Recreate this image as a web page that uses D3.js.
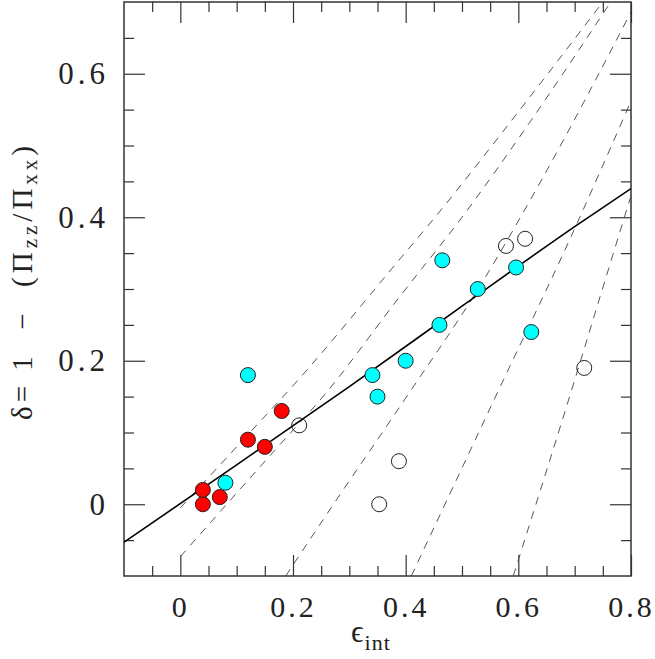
<!DOCTYPE html>
<html>
<head>
<meta charset="utf-8">
<script src="https://cdn.jsdelivr.net/npm/d3@7"></script>
<style>
  html, body { margin: 0; padding: 0; background: #fff; }
  svg { display: block; }
  text { font-family: "Liberation Serif", "DejaVu Serif", serif; fill: #222; }
</style>
</head>
<body>
<div id="chart"></div>
<script>
// ---------- data ----------
const redX  = [0.04, 0.04, 0.07, 0.12, 0.15, 0.18];
const redY  = [0.00, 0.02, 0.01, 0.09, 0.08, 0.13];

const cyanX = [0.08, 0.12, 0.341, 0.35, 0.40, 0.46, 0.465, 0.528, 0.596, 0.623];
const cyanY = [0.03, 0.18, 0.18, 0.15, 0.20, 0.25, 0.34, 0.30, 0.33, 0.24];

const openX = [0.211, 0.353, 0.388, 0.578, 0.612, 0.717];
const openY = [0.11, 0.00, 0.06, 0.36, 0.37, 0.19];

// solid fitted relation
const fitX = [-0.1, 0.1, 0.3, 0.5, 0.7, 0.8];
const fitY = [-0.053, 0.055, 0.164, 0.276, 0.387, 0.44];

// dashed curves
const dash1X = [0.0, 0.12, 0.21, 0.39, 0.45, 0.6, 0.75];
const dash1Y = [-0.005, 0.097, 0.174, 0.342, 0.398, 0.547, 0.70];
const dash2X = [0.0, 0.18, 0.25, 0.39, 0.5, 0.62, 0.764];
const dash2Y = [-0.073, 0.086, 0.147, 0.29, 0.40, 0.532, 0.70];
const dash3X = [0.187, 0.265, 0.4, 0.531, 0.644, 0.8];
const dash3Y = [-0.1, -0.008, 0.148, 0.303, 0.456, 0.686];
const dash4X = [0.41, 0.574, 0.686, 0.8];
const dash4Y = [-0.1, 0.174, 0.36, 0.562];
const dash5X = [0.591, 0.70, 0.745, 0.8];
const dash5Y = [-0.1, 0.173, 0.289, 0.43];

// ticks
const xTickVals   = [0, 0.2, 0.4, 0.6, 0.8];
const xTickLabels = ["0", "0.2", "0.4", "0.6", "0.8"];
const xMinorVals  = [-0.05, 0.05, 0.1, 0.15, 0.25, 0.3, 0.35, 0.45, 0.5, 0.55, 0.65, 0.7, 0.75];
const yTickVals   = [0, 0.2, 0.4, 0.6];
const yTickLabels = ["0", "0.2", "0.4", "0.6"];
const yMinorVals  = [-0.05, 0.05, 0.1, 0.15, 0.25, 0.3, 0.35, 0.45, 0.5, 0.55, 0.65];

// ---------- layout ----------
const W = 655, H = 659;
const L = 124, R = 631, T = 2, B = 576;

const x = d3.scaleLinear().domain([-0.1, 0.8]).range([L, R]);
const y = d3.scaleLinear().domain([-0.1, 0.7]).range([B, T]);

const svg = d3.select("#chart").append("svg")
  .attr("width", W).attr("height", H);

svg.append("defs").append("clipPath").attr("id", "clip")
  .append("rect").attr("x", L).attr("y", T).attr("width", R - L).attr("height", B - T);

const tickColor = "#333";
const MAJ = 21, MIN = 10;

function styleAxis(g, fontSize, spacing) {
  g.select(".domain").remove();
  g.selectAll(".tick line").attr("stroke", tickColor).attr("stroke-width", 1.2);
  g.selectAll(".tick text")
    .attr("font-size", fontSize)
    .attr("fill", "#222")
    .style("letter-spacing", spacing + "px");
}

// bottom
svg.append("g").attr("transform", `translate(0,${B})`)
  .call(d3.axisBottom(x).tickValues(xTickVals).tickFormat((d, i) => xTickLabels[i])
    .tickSizeInner(-MAJ).tickSizeOuter(0).tickPadding(20))
  .call(g => styleAxis(g, 30, 3));
svg.append("g").attr("transform", `translate(0,${B})`)
  .call(d3.axisBottom(x).tickValues(xMinorVals).tickFormat("").tickSizeInner(-MIN).tickSizeOuter(0))
  .call(g => styleAxis(g, 30, 3));
// top
svg.append("g").attr("transform", `translate(0,${T})`)
  .call(d3.axisTop(x).tickValues(xTickVals).tickFormat("").tickSizeInner(-MAJ).tickSizeOuter(0))
  .call(g => styleAxis(g, 30, 3));
svg.append("g").attr("transform", `translate(0,${T})`)
  .call(d3.axisTop(x).tickValues(xMinorVals).tickFormat("").tickSizeInner(-MIN).tickSizeOuter(0))
  .call(g => styleAxis(g, 30, 3));
// left
svg.append("g").attr("transform", `translate(${L},0)`)
  .call(d3.axisLeft(y).tickValues(yTickVals).tickFormat((d, i) => yTickLabels[i])
    .tickSizeInner(-MAJ).tickSizeOuter(0).tickPadding(15))
  .call(g => styleAxis(g, 31, 4));
svg.append("g").attr("transform", `translate(${L},0)`)
  .call(d3.axisLeft(y).tickValues(yMinorVals).tickFormat("").tickSizeInner(-MIN).tickSizeOuter(0))
  .call(g => styleAxis(g, 31, 4));
// right
svg.append("g").attr("transform", `translate(${R},0)`)
  .call(d3.axisRight(y).tickValues(yTickVals).tickFormat("").tickSizeInner(-MAJ).tickSizeOuter(0))
  .call(g => styleAxis(g, 31, 4));
svg.append("g").attr("transform", `translate(${R},0)`)
  .call(d3.axisRight(y).tickValues(yMinorVals).tickFormat("").tickSizeInner(-MIN).tickSizeOuter(0))
  .call(g => styleAxis(g, 31, 4));

// frame
svg.append("rect").attr("x", L).attr("y", T).attr("width", R - L).attr("height", B - T)
  .attr("fill", "none").attr("stroke", tickColor).attr("stroke-width", 1.5);

// ---------- curves ----------
const line = d3.line().x(d => x(d[0])).y(d => y(d[1])).curve(d3.curveMonotoneX);
const plot = svg.append("g").attr("clip-path", "url(#clip)");

const dashed = [[dash1X, dash1Y], [dash2X, dash2Y], [dash3X, dash3Y], [dash4X, dash4Y], [dash5X, dash5Y]];
dashed.forEach(([xs, ys]) => {
  plot.append("path")
    .datum(xs.map((v, i) => [v, ys[i]]))
    .attr("d", line)
    .attr("fill", "none")
    .attr("stroke", "#444")
    .attr("stroke-width", 0.9)
    .attr("stroke-dasharray", "8,7");
});

plot.append("path")
  .datum(fitX.map((v, i) => [v, fitY[i]]))
  .attr("d", line)
  .attr("fill", "none")
  .attr("stroke", "#000")
  .attr("stroke-width", 1.6);

// ---------- points ----------
const R0 = 7.5;
function pts(xs, ys, fill) {
  plot.append("g").selectAll("circle")
    .data(xs.map((v, i) => [v, ys[i]]))
    .join("circle")
    .attr("cx", d => x(d[0])).attr("cy", d => y(d[1]))
    .attr("r", R0)
    .attr("fill", fill)
    .attr("stroke", "#222")
    .attr("stroke-width", 1);
}
pts(openX, openY, "none");
pts(cyanX, cyanY, "#00ffff");
pts(redX, redY, "#ff0000");

// ---------- axis titles ----------
const xt = svg.append("text")
  .attr("x", 351).attr("y", 642)
  .attr("font-size", 31);
xt.append("tspan").text("ϵ");
xt.append("tspan").attr("font-size", 22).attr("dy", 8).attr("dx", 1).style("letter-spacing", "1px").text("int");

const yt = svg.append("text")
  .attr("transform", "translate(32,281) rotate(-90)")
  .attr("text-anchor", "middle")
  .attr("font-size", 29)
  .style("white-space", "pre")
  .style("letter-spacing", "4px");
yt.append("tspan").text("δ= 1  −  (Π");
yt.append("tspan").attr("font-size", 21).attr("dy", 5).text("zz");
yt.append("tspan").attr("dy", -5).text("/Π");
yt.append("tspan").attr("font-size", 21).attr("dy", 5).text("xx");
yt.append("tspan").attr("dy", -5).text(")");
</script>
</body>
</html>
